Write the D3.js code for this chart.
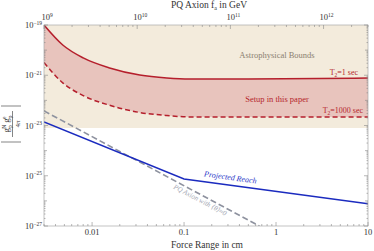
<html>
<head>
  <title>Force range reach</title>
  <script src="https://d3js.org/d3.v7.min.js"></script>
  <style>
    body { margin: 0; background: #fff; }
    text { font-family: "Liberation Serif", "DejaVu Serif", serif; }
  </style>
</head>
<body>
  <div id="vis"></div>
  <script type="text/javascript">

    // force range in cm (x) and coupling values
    var rangeCm = [0.003, 0.0048, 0.008, 0.0155, 0.033, 0.065, 0.115, 0.5, 10];
    var t2OneSec = [1e-19, 1.6e-20, 4.9e-21, 1.95e-21, 1.02e-21, 7.8e-22, 7.1e-22, 7.1e-22, 7.8e-22];
    var t2ThousandSec = [3.2e-21, 5.0e-22, 1.55e-22, 6.4e-23, 3.3e-23, 2.5e-23, 2.2e-23, 2.2e-23, 2.2e-23];

    var astroX = [0.003, 10];
    var astroY = [8e-24, 8e-24];

    var reachX = [0.003, 0.1, 10];
    var reachY = [1.38e-23, 7.4e-26, 7.6e-27];

    var axionX = [0.003, 0.66];
    var axionY = [3.8e-23, 1e-27];

    var xTicks = [0.01, 0.1, 1, 10];
    var xTickLabels = ["0.01", "0.1", "1", "10"];
    var yTicks = [1e-19, 1e-21, 1e-23, 1e-25, 1e-27];
    var yTickExp = ["-19", "-21", "-23", "-25", "-27"];
    var topTicks = [1e9, 1e10, 1e11, 1e12];
    var topTickExp = ["9", "10", "11", "12"];

    var W = 374, H = 251;
    var margin = {left: 44, right: 368, top: 25, bottom: 226};

    var x = d3.scaleLog().domain([0.003, 10]).range([margin.left, margin.right]);
    var xTop = d3.scaleLog().domain([1e9, 3e12]).range([margin.left, margin.right]);
    var y = d3.scaleLog().domain([1e-27, 1e-19]).range([margin.bottom, margin.top]);

    var svg = d3.select("#vis").append("svg")
        .attr("width", W)
        .attr("height", H);

    svg.append("clipPath").attr("id", "plot-clip")
      .append("rect")
        .attr("x", margin.left).attr("y", margin.top)
        .attr("width", margin.right - margin.left).attr("height", margin.bottom - margin.top);

    var plot = svg.append("g").attr("clip-path", "url(#plot-clip)");

    // astrophysical bounds region
    var astro = astroX.map(function(d, i) { return [d, astroY[i]]; });
    plot.append("path")
        .datum(astro)
        .attr("fill", "#f3ebdc")
        .attr("d", d3.area()
            .x(function(d) { return x(d[0]); })
            .y0(margin.top)
            .y1(function(d) { return y(d[1]); }));

    // band between T2 = 1 sec and T2 = 1000 sec
    var band = rangeCm.map(function(d, i) { return [d, t2OneSec[i], t2ThousandSec[i]]; });
    plot.append("path")
        .datum(band)
        .attr("fill", "#e8c4bd")
        .attr("d", d3.area()
            .curve(d3.curveMonotoneX)
            .x(function(d) { return x(d[0]); })
            .y0(function(d) { return y(d[2]); })
            .y1(function(d) { return y(d[1]); }));

    var line = d3.line()
        .curve(d3.curveMonotoneX)
        .x(function(d) { return x(d[0]); })
        .y(function(d) { return y(d[1]); });

    plot.append("path")
        .datum(band)
        .attr("fill", "none")
        .attr("stroke", "#b51f2c")
        .attr("stroke-width", 1.5)
        .attr("d", line);

    plot.append("path")
        .datum(band.map(function(d) { return [d[0], d[2]]; }))
        .attr("fill", "none")
        .attr("stroke", "#b51f2c")
        .attr("stroke-width", 1.5)
        .attr("stroke-dasharray", "5,3")
        .attr("d", line);

    plot.append("path")
        .datum(axionX.map(function(d, i) { return [d, axionY[i]]; }))
        .attr("fill", "none")
        .attr("stroke", "#8e929f")
        .attr("stroke-width", 1.6)
        .attr("stroke-dasharray", "6,3")
        .attr("d", d3.line().x(function(d) { return x(d[0]); }).y(function(d) { return y(d[1]); }));

    plot.append("path")
        .datum(reachX.map(function(d, i) { return [d, reachY[i]]; }))
        .attr("fill", "none")
        .attr("stroke", "#1b2bbf")
        .attr("stroke-width", 1.5)
        .attr("d", d3.line().x(function(d) { return x(d[0]); }).y(function(d) { return y(d[1]); }));

    // frame and ticks
    svg.append("rect")
        .attr("x", margin.left).attr("y", margin.top)
        .attr("width", margin.right - margin.left).attr("height", margin.bottom - margin.top)
        .attr("fill", "none")
        .attr("stroke", "#aaaaaa")
        .attr("stroke-width", 0.7);

    function logMinor(lo, hi) {
      var out = [];
      for (var e = Math.floor(Math.log10(lo)); e <= Math.ceil(Math.log10(hi)); e++) {
        for (var m = 1; m < 10; m++) {
          var v = m * Math.pow(10, e);
          if (v >= lo * 0.999 && v <= hi * 1.001) out.push({v: v, major: m === 1});
        }
      }
      return out;
    }

    var ticks = svg.append("g")
        .attr("stroke", "#888")
        .attr("stroke-width", 0.6);

    logMinor(0.003, 10).forEach(function(t) {
      var len = t.major ? 4 : 2;
      ticks.append("line").attr("x1", x(t.v)).attr("x2", x(t.v))
          .attr("y1", margin.bottom).attr("y2", margin.bottom - len);
    });
    logMinor(1e9, 3e12).forEach(function(t) {
      var len = t.major ? 4 : 2;
      ticks.append("line").attr("x1", xTop(t.v)).attr("x2", xTop(t.v))
          .attr("y1", margin.top).attr("y2", margin.top + len);
    });
    for (var e = -27; e <= -19; e++) {
      var len = (e % 2 !== 0) ? 4 : 3;
      ticks.append("line").attr("x1", margin.left).attr("x2", margin.left + len)
          .attr("y1", y(Math.pow(10, e))).attr("y2", y(Math.pow(10, e)));
      ticks.append("line").attr("x1", margin.right).attr("x2", margin.right - len)
          .attr("y1", y(Math.pow(10, e))).attr("y2", y(Math.pow(10, e)));
      if (e < -19) {
        [2, 3, 4, 5, 6, 7, 8, 9].forEach(function(m) {
          var v = m * Math.pow(10, e);
          ticks.append("line").attr("x1", margin.left).attr("x2", margin.left + 1.5)
              .attr("y1", y(v)).attr("y2", y(v));
          ticks.append("line").attr("x1", margin.right).attr("x2", margin.right - 1.5)
              .attr("y1", y(v)).attr("y2", y(v));
        });
      }
    }

    // tick labels
    svg.selectAll(".xlab")
        .data(xTicks)
        .enter().append("text")
        .attr("x", function(d) { return x(d); })
        .attr("y", 235)
        .attr("text-anchor", "middle")
        .attr("font-size", 8.5)
        .attr("fill", "#333")
        .text(function(d, i) { return xTickLabels[i]; });

    var yl = svg.selectAll(".ylab")
        .data(yTicks)
        .enter().append("text")
        .attr("x", 42)
        .attr("y", function(d) { return y(d) + 3; })
        .attr("text-anchor", "end")
        .attr("font-size", 8.5)
        .attr("fill", "#333");
    yl.append("tspan").text("10");
    yl.append("tspan")
        .attr("dy", -3.5)
        .attr("font-size", 5.5)
        .text(function(d, i) { return "\u2212" + yTickExp[i].slice(1); });

    var tl = svg.selectAll(".toplab")
        .data(topTicks)
        .enter().append("text")
        .attr("x", function(d) { return xTop(d) + 3; })
        .attr("y", 20)
        .attr("text-anchor", "middle")
        .attr("font-size", 8.5)
        .attr("fill", "#333");
    tl.append("tspan").text("10");
    tl.append("tspan")
        .attr("dy", -3.5)
        .attr("font-size", 5.5)
        .text(function(d, i) { return topTickExp[i]; });

    // axis titles
    var topTitle = svg.append("text")
        .attr("x", 209).attr("y", 8)
        .attr("text-anchor", "middle")
        .attr("font-size", 9.5)
        .attr("fill", "#333");
    topTitle.append("tspan").text("PQ Axion  f");
    topTitle.append("tspan").attr("dy", 2).attr("font-size", 6).text("a");
    topTitle.append("tspan").attr("dy", -2).text(" in GeV");

    svg.append("text")
        .attr("x", 207).attr("y", 248)
        .attr("text-anchor", "middle")
        .attr("font-size", 9.5)
        .attr("fill", "#333")
        .text("Force Range in cm");

    // y title: |g g / 4pi| rotated
    var yt = svg.append("g")
        .attr("transform", "translate(11,124) rotate(-90)")
        .attr("fill", "#333");
    var num = yt.append("text")
        .attr("x", 0).attr("y", -2)
        .attr("text-anchor", "middle")
        .attr("font-size", 9);
    num.append("tspan").text("g");
    num.append("tspan").attr("dy", 2.5).attr("font-size", 5.5).text("p");
    num.append("tspan").attr("dy", -6).attr("dx", -3.5).attr("font-size", 5.5).text("N");
    num.append("tspan").attr("dy", 3.5).text(" g");
    num.append("tspan").attr("dy", 2.5).attr("font-size", 5.5).text("p");
    num.append("tspan").attr("dy", -6).attr("dx", -3.5).attr("font-size", 5.5).text("e");
    yt.append("line")
        .attr("x1", -13).attr("x2", 13).attr("y1", 1.5).attr("y2", 1.5)
        .attr("stroke", "#333").attr("stroke-width", 0.6);
    yt.append("text")
        .attr("x", 0).attr("y", 9)
        .attr("text-anchor", "middle")
        .attr("font-size", 7)
        .text("4\u03c0");
    [-18, 18].forEach(function(u) {
      yt.append("line")
          .attr("x1", u).attr("x2", u).attr("y1", -10).attr("y2", 10)
          .attr("stroke", "#333").attr("stroke-width", 0.6);
    });

    // region annotations
    svg.append("text")
        .attr("x", 277).attr("y", 58)
        .attr("text-anchor", "middle")
        .attr("font-size", 8.5)
        .attr("fill", "#8a8070")
        .text("Astrophysical Bounds");

    var t1 = svg.append("text")
        .attr("x", 358).attr("y", 75)
        .attr("text-anchor", "end")
        .attr("font-size", 8)
        .attr("fill", "#b51f2c");
    t1.append("tspan").text("T");
    t1.append("tspan").attr("dy", 1.5).attr("font-size", 5.5).text("2");
    t1.append("tspan").attr("dy", -1.5).text("=1 sec");

    svg.append("text")
        .attr("x", 277).attr("y", 102)
        .attr("text-anchor", "middle")
        .attr("font-size", 8.5)
        .attr("fill", "#b51f2c")
        .text("Setup in this paper");

    var t2 = svg.append("text")
        .attr("x", 363).attr("y", 113)
        .attr("text-anchor", "end")
        .attr("font-size", 8)
        .attr("fill", "#b51f2c");
    t2.append("tspan").text("T");
    t2.append("tspan").attr("dy", 1.5).attr("font-size", 5.5).text("2");
    t2.append("tspan").attr("dy", -1.5).text("=1000 sec");

    svg.append("text")
        .attr("transform", "translate(230,180) rotate(8)")
        .attr("text-anchor", "middle")
        .attr("font-size", 8)
        .attr("font-style", "italic")
        .attr("fill", "#2a36c8")
        .text("Projected Reach");

    svg.append("text")
        .attr("transform", "translate(199,202) rotate(28)")
        .attr("text-anchor", "middle")
        .attr("font-size", 7)
        .attr("font-style", "italic")
        .attr("fill", "#a3a7b3")
        .text("PQ Axion with \u27e8\u03b8\u27e9\u22480");

  </script>
</body>
</html>
